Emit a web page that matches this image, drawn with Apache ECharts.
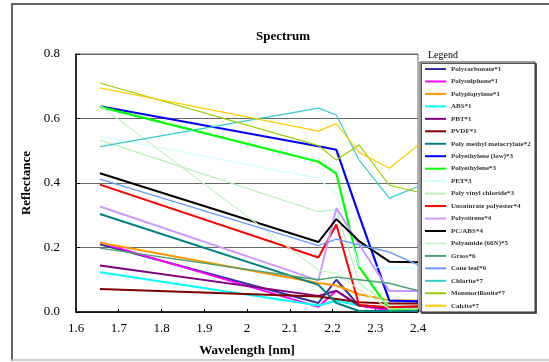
<!DOCTYPE html>
<html>
<head>
<meta charset="utf-8">
<script src="https://cdn.jsdelivr.net/npm/echarts@6/dist/echarts.min.js"></script>
<style>
html,body{margin:0;padding:0;background:#fff;}
#chart{width:549px;height:362px;}
</style>
</head>
<body>
<div id="chart"></div>
<script>
// wavelengths (x) in the picture
const wavelengths = [1.656, 2.167, 2.209, 2.262, 2.333, 2.4];
const xTicks = ['1.6','1.7','1.8','1.9','2','2.1','2.2','2.3','2.4'];
const yTicks = ['0.0','0.2','0.4','0.6','0.8'];

const seriesNames = [
  'Polycarbonate*1','Polysulphone*1','Polyplopylene*1','ABS*1','PBT*1','PVDF*1',
  'Poly methyl metacrylate*2','Polyethylene (low)*3','Polyethylene*3','PET*3',
  'Poly vinyl chloride*3','Unsaturate polyester*4','Polystirene*4','PC/ABS*4',
  'Polyamide (66N)*5','Grass*6','Cone leaf*6','Chlorite*7','Monmorillonite*7','Calcite*7'
];
const polycarbonate   = [0.210, 0.028, 0.100, 0.020, 0.010, 0.010];
const polysulphone    = [0.215, 0.016, 0.066, 0.020, 0.005, 0.008];
const polypropylene   = [0.215, 0.090, 0.082, 0.055, 0.036, 0.036];
const abs             = [0.123, 0.020, 0.035, 0.020, 0.015, 0.015];
const pbt             = [0.144, 0.050, 0.066, 0.020, 0.012, 0.012];
const pvdf            = [0.071, 0.048, 0.040, 0.030, 0.026, 0.026];
const pmma            = [0.304, 0.084, 0.028, 0.003, 0.003, 0.003];
const polyethyleneLow = [0.638, 0.514, 0.503, 0.300, 0.035, 0.033];
const polyethylene    = [0.636, 0.466, 0.429, 0.140, 0.008, 0.010];
const pet             = [0.545, 0.415, 0.365, 0.143, 0.136, 0.136];
const pvc             = [0.533, 0.311, 0.317, 0.090, 0.020, 0.020];
const unsatPolyester  = [0.395, 0.169, 0.271, 0.022, 0.015, 0.018];
const polystyrene     = [0.327, 0.098, 0.322, 0.210, 0.065, 0.065];
const pcAbs           = [0.430, 0.217, 0.288, 0.220, 0.156, 0.154];
const polyamide       = [0.640, 0.130, 0.120, 0.070, 0.010, 0.010];
const grass           = [0.198, 0.100, 0.108, 0.100, 0.089, 0.066];
const coneLeaf        = [0.412, 0.206, 0.226, 0.208, 0.186, 0.146];
const chlorite        = [0.513, 0.632, 0.611, 0.472, 0.353, 0.389];
const montmorillonite = [0.710, 0.516, 0.471, 0.518, 0.393, 0.372];
const calcite         = [0.695, 0.561, 0.584, 0.495, 0.446, 0.517];

const allValues = [polycarbonate, polysulphone, polypropylene, abs, pbt, pvdf, pmma,
  polyethyleneLow, polyethylene, pet, pvc, unsatPolyester, polystyrene, pcAbs,
  polyamide, grass, coneLeaf, chlorite, montmorillonite, calcite];

const colors = ['#333399','#ff00ff','#ff9900','#00ffff','#800080','#800000','#008080',
  '#0000ff','#00ff00','#ccffff','#b8f0b8','#ff0000','#cc99ff','#000000',
  '#c8f5c8','#4d9f74','#6699ff','#33cccc','#99cc00','#ffcc00'];
const widths = [2,2,2,2,2,2,2,2.2,2.2,1.2,1.2,2,2,2,1.2,1.4,1.4,1.2,1.2,1.2];

const serif = '"Liberation Serif","Times New Roman",serif';
const chart = echarts.init(document.getElementById('chart'));

const series = seriesNames.map((name, i) => ({
  name: name,
  type: 'line',
  symbol: 'none',
  data: wavelengths.map((w, j) => [w, allValues[i][j]]),
  lineStyle: { color: colors[i], width: widths[i] },
  itemStyle: { color: colors[i] },
  emphasis: { disabled: true },
  z: 3
}));

chart.setOption({
  animation: false,
  backgroundColor: '#fff',
  grid: { left: 76, top: 54, right: 131, bottom: 49, show: true, borderColor: '#666', borderWidth: 1 },
  xAxis: {
    type: 'value', min: 1.6, max: 2.4, interval: 0.1,
    name: 'Wavelength [nm]', nameLocation: 'middle', nameGap: 32,
    nameTextStyle: { fontFamily: serif, fontSize: 13, fontWeight: 'bold', color: '#000' },
    axisLine: { lineStyle: { color: '#000', width: 1.5 } },
    axisTick: { inside: true, length: 3, lineStyle: { color: '#000' } },
    axisLabel: { margin: 10, fontFamily: serif, fontSize: 13, color: '#000',
      formatter: (v) => xTicks[Math.round((v - 1.6) * 10)] },
    splitLine: { show: false }
  },
  yAxis: {
    type: 'value', min: 0, max: 0.8, interval: 0.2,
    name: 'Reflectance', nameLocation: 'middle', nameGap: 43,
    nameTextStyle: { fontFamily: serif, fontSize: 13, fontWeight: 'bold', color: '#000' },
    axisLine: { show: true, lineStyle: { color: '#000', width: 1.5 } },
    axisTick: { show: true, inside: true, length: 4, lineStyle: { color: '#000' } },
    axisLabel: { margin: 16, fontFamily: serif, fontSize: 13, color: '#000',
      formatter: (v) => yTicks[Math.round(v * 5)] },
    splitLine: { show: true, lineStyle: { color: '#666', width: 1 } }
  },
  legend: {
    orient: 'vertical', left: 420, top: 62,
    padding: [3, 2, 3, 5],
    icon: 'rect',
    itemWidth: 21, itemHeight: 2, itemGap: 4.46,
    selectedMode: false,
    textStyle: { fontFamily: serif, fontSize: 7, fontWeight: 'bold', color: '#333', lineHeight: 8, height: 8 },
    data: seriesNames
  },
  graphic: [
    { type: 'rect', shape: { x: 12, y: 4, width: 560, height: 356 },
      style: { fill: 'none', stroke: '#333', lineWidth: 1.5 }, z: 0, silent: true },
    { type: 'line', shape: { x1: 12, y1: 360, x2: 549, y2: 360 },
      style: { stroke: '#ccc', lineWidth: 2 }, z: 1, silent: true },
    { type: 'rect', shape: { x: 420, y: 62, width: 115, height: 250 },
      style: { fill: '#fff', stroke: '#333', lineWidth: 1, shadowColor: '#555', shadowOffsetX: 1.5, shadowOffsetY: 1.5 }, z: 0, silent: true },
    { type: 'text', x: 283, y: 37, style: { text: 'Spectrum', fontFamily: serif, fontSize: 13, fontWeight: 'bold', fill: '#000', align: 'center', verticalAlign: 'middle' }, silent: true },
    { type: 'text', x: 428, y: 55, style: { text: 'Legend', fontFamily: serif, fontSize: 10, fill: '#000', align: 'left', verticalAlign: 'middle' }, silent: true }
  ],
  series: series
});
</script>
</body>
</html>
